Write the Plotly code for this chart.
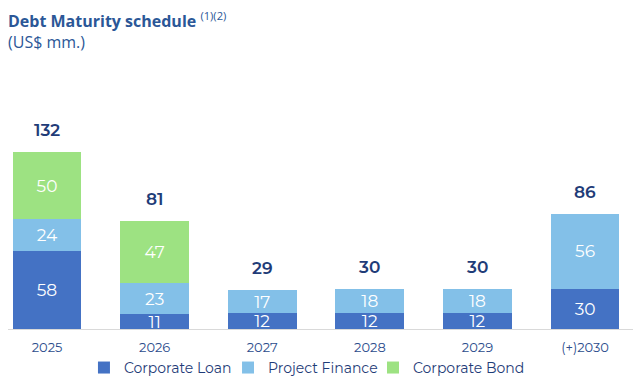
import plotly.graph_objects as go

years = ["2025", "2026", "2027", "2028", "2029", "(+)2030"]
corporate_loan = [58, 11, 12, 12, 12, 30]
project_finance = [24, 23, 17, 18, 18, 56]
corporate_bond = [50, 47, None, None, None, None]
totals = [132, 81, 29, 30, 30, 86]

font_fam = "Montserrat, Lato, Open Sans, sans-serif"
navy = "#1F3C78"

fig = go.Figure()
series = [
    ("Corporate Loan", corporate_loan, "#4472C4", "legend"),
    ("Project Finance", project_finance, "#83C0E8", "legend2"),
    ("Corporate Bond", corporate_bond, "#9DE282", "legend3"),
]
for name, vals, col, lg in series:
    fig.add_trace(go.Bar(
        x=years, y=vals, name=name, marker_color=col, marker_line_width=0,
        width=0.64, legend=lg,
        text=[str(v) if v is not None else "" for v in vals],
        textposition="inside", insidetextanchor="middle", textangle=0,
        constraintext="none",
        textfont=dict(color="white", size=17, family=font_fam),
        hoverinfo="skip",
    ))

for i, t in enumerate(totals):
    fig.add_annotation(x=i, y=t, text=str(t), showarrow=False, yanchor="bottom",
                       yshift=10, font=dict(color=navy, size=17, family=font_fam, weight=600))

fig.add_annotation(xref="paper", yref="paper", x=0, y=1, xanchor="left", yanchor="top",
                   xshift=-2, yshift=94, align="left",
                   text="<b>Debt Maturity schedule</b> <sup>(1)(2)</sup><br>(US$ mm.)",
                   showarrow=False,
                   font=dict(color="#2B5797", size=16, family="Open Sans, sans-serif"))

legend_style = dict(orientation="h", xanchor="left", y=-0.17, yanchor="middle",
                    font=dict(color=navy, size=14, family=font_fam),
                    itemwidth=30, bgcolor="rgba(0,0,0,0)")

fig.update_layout(
    barmode="stack",
    width=633, height=378,
    margin=dict(l=0, r=0, t=92, b=57, autoexpand=False),
    paper_bgcolor="white", plot_bgcolor="white",
    showlegend=True,
    legend=dict(x=0.120, **legend_style),
    legend2=dict(x=0.3476, **legend_style),
    legend3=dict(x=0.5766, **legend_style),
    xaxis=dict(type="category", range=[-0.363, 5.52], showline=True, linecolor="#D9D9D9",
               linewidth=1, ticks="", ticklabelstandoff=6,
               tickfont=dict(color="#2B4C8C", size=13, family=font_fam),
               showgrid=False),
    yaxis=dict(range=[0, 171], visible=False, showgrid=False),
)
fig.write_html("out.html")
